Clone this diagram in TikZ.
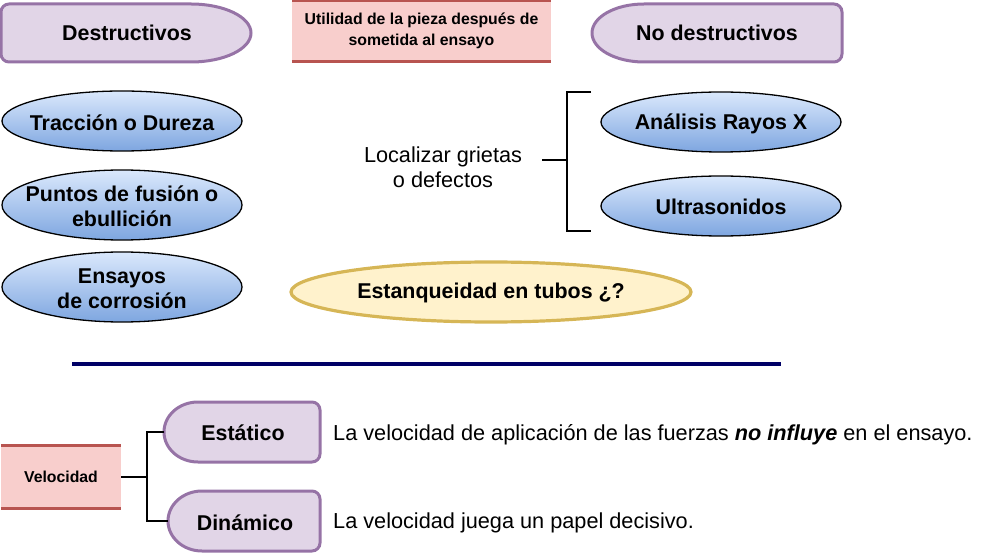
\documentclass[tikz,border=0pt]{standalone}
\usepackage{fontspec}
\setmainfont{Liberation Sans}
\usetikzlibrary{shapes.geometric}
\definecolor{purf}{HTML}{E1D5E7}
\definecolor{purd}{HTML}{9673A6}
\definecolor{redf}{HTML}{F8CECC}
\definecolor{redd}{HTML}{B85450}
\definecolor{bluet}{HTML}{DAE8FC}
\definecolor{blueb}{HTML}{7EA6E0}
\definecolor{yelf}{HTML}{FFF2CC}
\definecolor{yeld}{HTML}{D6B656}
\definecolor{navy}{HTML}{000066}
% flat left, elliptic right
\newcommand\DshapeR[5]{%
 \pgfmathsetmacro\dsxs{#3-#5}%
 \pgfmathsetmacro\dscy{(#2+#4)/2}%
 \pgfmathsetmacro\dsky{0.5523*(#4-#2)/2}%
 \pgfmathsetmacro\dskx{0.5523*#5}%
 \draw[purshape] (\dsxs,#2) -- ({#1+8},#2) .. controls ({#1+3.6},#2) and (#1,{#2+3.6}) .. (#1,{#2+8})
   -- (#1,{#4-8}) .. controls (#1,{#4-3.6}) and ({#1+3.6},#4) .. ({#1+8},#4)
   -- (\dsxs,#4) .. controls ({\dsxs+\dskx},#4) and (#3,{\dscy+\dsky}) .. (#3,\dscy)
   .. controls (#3,{\dscy-\dsky}) and ({\dsxs+\dskx},#2) .. (\dsxs,#2) -- cycle;}
% elliptic left, flat right
\newcommand\DshapeL[5]{%
 \pgfmathsetmacro\dsxs{#1+#5}%
 \pgfmathsetmacro\dscy{(#2+#4)/2}%
 \pgfmathsetmacro\dsky{0.5523*(#4-#2)/2}%
 \pgfmathsetmacro\dskx{0.5523*#5}%
 \draw[purshape] (\dsxs,#2) -- ({#3-8},#2) .. controls ({#3-3.6},#2) and (#3,{#2+3.6}) .. (#3,{#2+8})
   -- (#3,{#4-8}) .. controls (#3,{#4-3.6}) and ({#3-3.6},#4) .. ({#3-8},#4)
   -- (\dsxs,#4) .. controls ({\dsxs-\dskx},#4) and (#1,{\dscy+\dsky}) .. (#1,\dscy)
   .. controls (#1,{\dscy-\dsky}) and ({\dsxs-\dskx},#2) .. (\dsxs,#2) -- cycle;}
\begin{document}
\begin{tikzpicture}[x=1pt,y=-1pt,
  purshape/.style={fill=purf,draw=purd,line width=3pt},
  btxt/.style={font=\fontsize{21.4}{25}\selectfont\bfseries,align=center,inner sep=0pt},
  stxt/.style={font=\fontsize{15.8}{21}\selectfont\bfseries,align=center,inner sep=0pt},
  rtxt/.style={font=\fontsize{21.7}{25}\selectfont,inner sep=0pt},
  bluee/.style={ellipse,draw=black,line width=1.3pt,top color=bluet,bottom color=blueb,inner sep=0pt},
  yelle/.style={ellipse,draw=yeld,fill=yelf,line width=3.2pt,inner sep=0pt},
  redbox/.style={rectangle,fill=redf,inner sep=0pt},
  redline/.style={draw=redd,line width=3pt},
  brk/.style={draw=black,line width=1.7pt}]
\useasboundingbox (0,0) rectangle (982,553);

% top row
\DshapeR{1}{4}{251}{62}{60}
\node[btxt] (destr) at (127,33) {Destructivos};
\node[redbox,minimum width=259,minimum height=60] (util) at (421.5,31) {};
\draw[redline] (util.north west) -- (util.north east);
\draw[redline] (util.south west) -- (util.south east);
\node[stxt] at (util) {Utilidad de la pieza después de\\sometida al ensayo};
\DshapeL{592}{4}{842}{62}{52}
\node[btxt] (nodestr) at (717,33) {No destructivos};

% blue ellipses left
\node[bluee,minimum width=240,minimum height=60] (trac) at (122,121) {};
\node[btxt] at ([yshift=-2pt]trac) {Tracción o Dureza};
\node[bluee,minimum width=240,minimum height=70] (punt) at (122,205) {};
\node[btxt] at ([yshift=-1pt]punt) {Puntos de fusión o\\ebullición};
\node[bluee,minimum width=240,minimum height=70] (ensa) at (122,287) {};
\node[btxt] at ([yshift=-2pt]ensa) {Ensayos\\de corrosión};

% right
\node[bluee,minimum width=240,minimum height=60] (rayos) at (721,122) {};
\node[btxt] at ([yshift=-2pt]rayos) {Análisis Rayos X};
\node[bluee,minimum width=240,minimum height=60] (ultra) at (721,206) {};
\node[btxt] at ([yshift=-1pt]ultra) {Ultrasonidos};

\node[rtxt,align=center] (loc) at (443,167) {Localizar grietas\\o defectos};
\coordinate (bm) at (542,160);
\coordinate (bv) at (567,160);
\coordinate (bt) at (591,92);
\coordinate (bb) at (591,231);
\draw[brk] (bm) -- (bv);
\draw[brk] (bt) -- (567,92) -- (567,231) -- (bb);

\node[yelle,minimum width=400,minimum height=60] (estan) at (491,292) {};
\node[btxt] at ([yshift=-1pt]estan) {Estanqueidad en tubos ¿?};

% separator
\coordinate (sepl) at (72,364);
\coordinate (sepr) at (781,364);
\draw[navy,line width=3.2pt] (sepl) -- (sepr);

% bottom
\node[redbox,minimum width=120,minimum height=62] (velo) at (61,477) {};
\draw[redline] (velo.north west) -- (velo.north east);
\draw[redline] (velo.south west) -- (velo.south east);
\node[stxt] at (velo) {Velocidad};

\DshapeL{164}{402}{320}{462}{34}
\node[btxt] (esta) at (243,433) {Estático};
\DshapeL{168}{491}{320}{551}{34}
\node[btxt] (dina) at (245,523) {Dinámico};

\coordinate (ve) at (147,477);
\coordinate (ea) at (164,432);
\coordinate (da) at (168,521);
\draw[brk] (velo.east) -- (ve);
\draw[brk] (ea) -- (147,432) -- (147,521) -- (da);

\node[rtxt,anchor=west] (t1) at (333,435) {La velocidad de aplicación de las fuerzas \textbf{\textit{no influye}} en el ensayo.};
\node[rtxt,anchor=west] (t2) at (333,523) {La velocidad juega un papel decisivo.};
\end{tikzpicture}
\end{document}
